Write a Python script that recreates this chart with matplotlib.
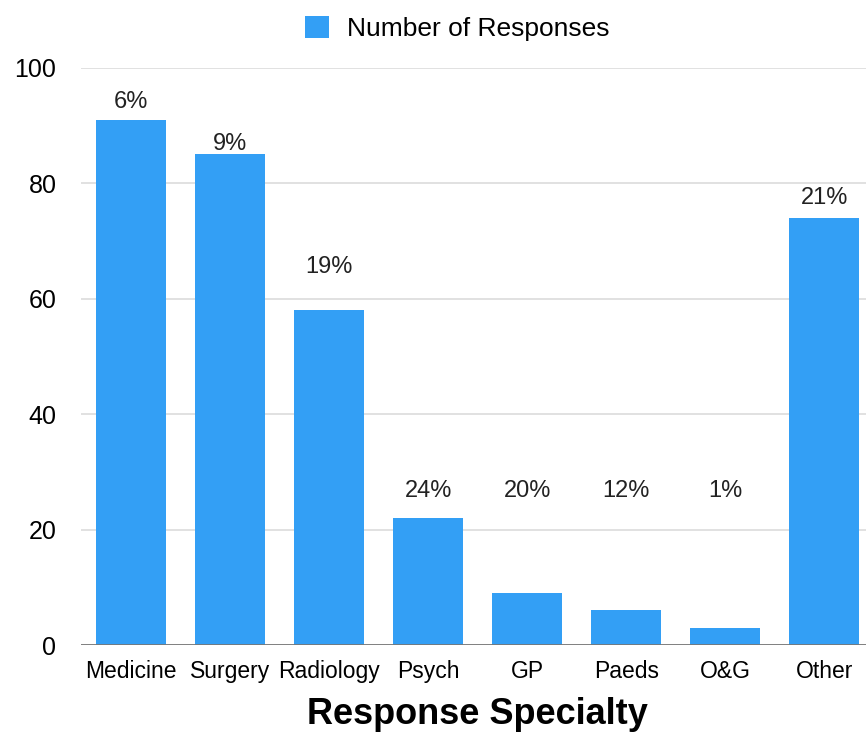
import matplotlib
matplotlib.use("Agg")
import matplotlib.pyplot as plt
import numpy as np

plt.rcParams['font.family'] = ['Liberation Sans', 'DejaVu Sans']

# categories and counts
specialties = ['Medicine', 'Surgery', 'Radiology', 'Psych', 'GP', 'Paeds', 'O&G', 'Other']
responses = [91, 85, 58, 22, 9, 6, 3, 74]
pct_labels = ['6%', '9%', '19%', '24%', '20%', '12%', '1%', '21%']

bar_color = '#339ff5'
# gap (in y units) between a bar top and its percentage text
label_gap = [3.1, 1.8, 7.5, 4.7, 4.7, 4.7, 4.7, 3.4]
label_floor = 22

fig = plt.figure(figsize=(8.66, 7.38), dpi=100)
ax = fig.add_axes([0.094, 0.126, 0.915, 0.782])

x = np.arange(len(specialties))
bars = ax.bar(x, responses, width=0.71, color=bar_color, label='Number of Responses', zorder=3)

ax.set_xlim(-0.5, len(specialties) - 0.5)
ax.set_ylim(0, 100)
ax.set_yticks([0, 20, 40, 60, 80, 100])
ax.grid(axis='y', color='#dcdcdc', linewidth=1.2, zorder=0)
ax.axhline(0, color='#777777', linewidth=2, zorder=4)

for s in ax.spines.values():
    s.set_visible(False)
ax.tick_params(axis='both', length=0)
ax.tick_params(axis='y', labelsize=18, pad=18)
ax.tick_params(axis='x', labelsize=16.5, pad=11)
ax.set_xticks(x)
ax.set_xticklabels(specialties)

# percentage text above each bar, short bars share one line
for i, (v, t) in enumerate(zip(responses, pct_labels)):
    y = max(v, label_floor) + label_gap[i]
    ax.text(i, y, t, ha='center', va='center', fontsize=17, color='#222222')

ax.set_xlabel('Response Specialty', fontsize=26, fontweight='bold', labelpad=10)

fig.legend(handles=[bars], loc='upper center', bbox_to_anchor=(0.528, 1.01),
           frameon=False, fontsize=19, handlelength=0.9, handleheight=0.9,
           handletextpad=0.7)

fig.savefig('out.png', dpi=100)
